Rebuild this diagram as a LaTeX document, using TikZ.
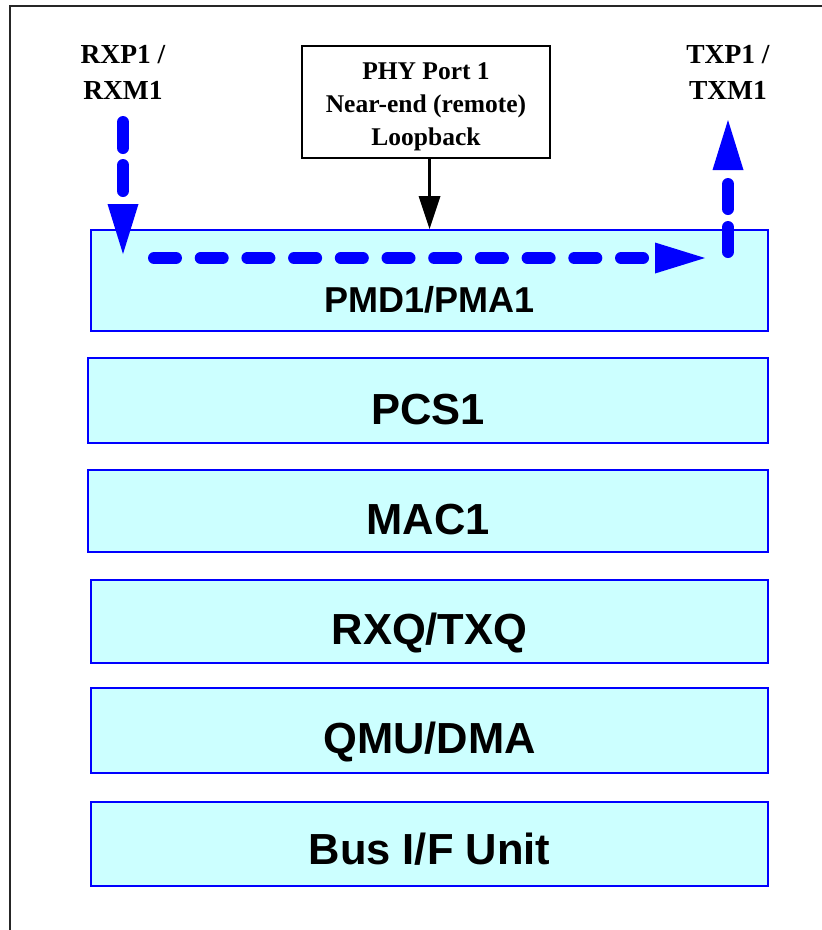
\documentclass[tikz,border=0pt]{standalone}
\usepackage{fontspec}
\setmainfont{Liberation Serif}
\setsansfont{Liberation Sans}
\usetikzlibrary{arrows.meta,calc}
\definecolor{boxfill}{RGB}{204,255,255}
\definecolor{pathblue}{RGB}{0,0,255}
\begin{document}
\begin{tikzpicture}[x=1pt,y=-1pt,
  layer/.style={draw=pathblue, fill=boxfill, line width=2pt, rectangle, inner sep=0pt},
  laylbl/.style={font=\sffamily\bfseries\fontsize{43.5}{50}\selectfont},
  portlbl/.style={font=\rmfamily\bfseries\fontsize{27.5}{36}\selectfont, align=center, inner sep=0pt},
  callout/.style={draw=black, fill=white, line width=2.5pt, rectangle, inner sep=0pt,
     minimum width=248pt, minimum height=112pt, align=center,
     font=\rmfamily\bfseries\fontsize{25.5}{33}\selectfont},
  flow/.style={draw=pathblue, line width=12pt, line cap=round},
  flowtip/.style={-{Triangle[length=50pt,width=31pt,line width=0pt]}}
]
\useasboundingbox (0,0) rectangle (822,930);
\begin{scope}
\clip (0,0) rectangle (822,930);
\draw[line width=2.2pt, draw=black!85] (10,6) rectangle (840,950);
\end{scope}

% layer boxes
\node[layer, minimum width=677pt, minimum height=101pt,
  label={[anchor=base, yshift=20pt, font=\sffamily\bfseries\fontsize{36}{42}\selectfont]south:PMD1/PMA1}]
  (pmd) at (429.5,280.5) {};
\node[layer, minimum width=680pt, minimum height=85pt,
  label={[anchor=base, yshift=20pt, laylbl]south:PCS1}] (pcs) at (428,400.5) {};
\node[layer, minimum width=680pt, minimum height=82pt,
  label={[anchor=base, yshift=19pt, laylbl]south:MAC1}] (mac) at (428,511) {};
\node[layer, minimum width=677pt, minimum height=83pt,
  label={[anchor=base, yshift=20pt, laylbl]south:RXQ/TXQ}] (rxq) at (429.5,621.5) {};
\node[layer, minimum width=677pt, minimum height=85pt,
  label={[anchor=base, yshift=21pt, laylbl]south:QMU/DMA}] (qmu) at (429.5,730.5) {};
\node[layer, minimum width=677pt, minimum height=84pt,
  label={[anchor=base, yshift=23pt, laylbl]south:Bus I/F Unit}] (bus) at (429.5,844) {};

% port labels (base = baseline of last line)
\node[portlbl, anchor=base] (rxlbl) at (123,99) {RXP1 /\\RXM1};
\node[portlbl, anchor=base] (txlbl) at (728,99) {TXP1 /\\TXM1};

% callout
\node[callout] (call) at (426,102) {\rule{0pt}{27pt}PHY Port 1\\Near-end (remote)\\Loopback};
\draw[line width=2.5pt, -{Triangle[length=33pt,width=22pt,line width=0pt]}]
  (pmd.north |- call.south) -- (pmd.north);

% loopback path
\coordinate (rxin) at (123,122);
\coordinate (rxend) at (123,254);
\coordinate (hstart) at (154,258);
\coordinate (hend) at (705,258);
\coordinate (txstart) at (728,252);
\coordinate (txend) at (728,120);
\draw[flow, flowtip, dash pattern=on 26pt off 17pt] (rxin) -- (rxend);
\draw[flow, flowtip, dash pattern=on 22pt off 24.7pt] (hstart) -- (hend);
\draw[flow, flowtip, dash pattern=on 25pt off 18pt] (txstart) -- (txend);
\end{tikzpicture}
\end{document}
